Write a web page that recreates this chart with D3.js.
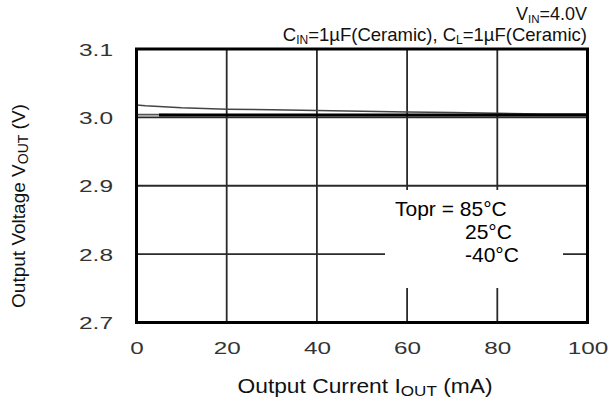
<!DOCTYPE html>
<html>
<head>
<meta charset="utf-8">
<script src="https://cdn.jsdelivr.net/npm/d3@7"></script>
<style>
  html, body { margin: 0; padding: 0; background: #fff; }
  svg { display: block; font-family: "Liberation Sans", Arial, sans-serif; }
</style>
</head>
<body>
<svg id="chart" width="611" height="403"></svg>
<script>
// Output voltage vs. output current at three operating temperatures
const xTicks = [0, 20, 40, 60, 80, 100];
const yTicks = [2.7, 2.8, 2.9, 3.0, 3.1];
const yTickLabels = ["2.7", "2.8", "2.9", "3.0", "3.1"];

const current85 = [0, 2, 5, 10, 20, 30, 40, 50, 60, 70, 80, 90, 100];
const vout85    = [3.018, 3.017, 3.016, 3.014, 3.012, 3.011, 3.010, 3.009, 3.008, 3.007, 3.006, 3.005, 3.005];

const current25 = [5, 20, 40, 60, 80, 100];
const vout25    = [3.0035, 3.0035, 3.0035, 3.0035, 3.0035, 3.0035];

const currentM40 = [0, 5, 20, 40, 60, 80, 100];
const voutM40    = [3.004, 3.004, 3.0035, 3.0035, 3.003, 3.003, 3.003];

const legendLabels = ["Topr = 85°C", "25°C", "-40°C"];

const svg = d3.select("#chart");
const plotL = 136.5, plotR = 587.5, plotT = 49, plotB = 322.5;

const x = d3.scaleLinear().domain([0, 100]).range([plotL, plotR]);
const y = d3.scaleLinear().domain([2.7, 3.1]).range([plotB, plotT]);

// grid
const grid = svg.append("g").attr("stroke", "#2a2a2a").attr("stroke-width", 1.8);
grid.selectAll("line.v").data(xTicks.slice(1, -1)).join("line")
  .attr("class", "v")
  .attr("x1", d => x(d)).attr("x2", d => x(d))
  .attr("y1", plotT).attr("y2", plotB);
grid.selectAll("line.h").data(yTicks.slice(1, -1)).join("line")
  .attr("class", "h")
  .attr("x1", plotL).attr("x2", plotR)
  .attr("y1", d => y(d)).attr("y2", d => y(d));

// curves
const line = (xs, ys) => d3.line().x((d, i) => x(xs[i])).y(d => y(d))(ys);
svg.append("path").attr("d", line(currentM40, voutM40))
  .attr("fill", "none").attr("stroke", "#555").attr("stroke-width", 1.6);
svg.append("path").attr("d", line(current85, vout85))
  .attr("fill", "none").attr("stroke", "#444").attr("stroke-width", 1.5);
svg.append("path").attr("d", line(current25, vout25))
  .attr("fill", "none").attr("stroke", "#000").attr("stroke-width", 3);

// legend backdrop covering grid
svg.append("rect").attr("x", 385).attr("y", 190).attr("width", 178).attr("height", 98)
  .attr("fill", "#fff");

// frame
svg.append("rect").attr("x", plotL).attr("y", plotT)
  .attr("width", plotR - plotL).attr("height", plotB - plotT)
  .attr("fill", "none").attr("stroke", "#000").attr("stroke-width", 3);

// axes (labels only)
const xAxis = d3.axisBottom(x).tickValues(xTicks).tickSize(0).tickPadding(0)
  .tickFormat(d3.format("d"));
const gx = svg.append("g").attr("transform", `translate(0, 354)`).call(xAxis);
gx.select(".domain").remove();
gx.selectAll("text").attr("dy", 0).attr("y", 0)
  .attr("font-size", 17).attr("fill", "#333")
  .attr("font-family", "'Liberation Sans', Arial, sans-serif")
  .attr("lengthAdjust", "spacingAndGlyphs")
  .attr("textLength", d => String(d).length * 13.5)
  .attr("text-anchor", "middle");

const yAxis = d3.axisLeft(y).tickValues(yTicks).tickSize(0).tickPadding(0)
  .tickFormat((d, i) => yTickLabels[i]);
const gy = svg.append("g").attr("transform", `translate(113, 0)`).call(yAxis);
gy.select(".domain").remove();
gy.selectAll("text").attr("x", 0).attr("dy", "0.36em")
  .attr("font-size", 17).attr("fill", "#333")
  .attr("font-family", "'Liberation Sans', Arial, sans-serif")
  .attr("lengthAdjust", "spacingAndGlyphs")
  .attr("textLength", 34)
  .attr("text-anchor", "end");

// axis titles
const xt = svg.append("text").attr("x", 365).attr("y", 393)
  .attr("text-anchor", "middle").attr("font-size", 20).attr("fill", "#111")
  .attr("textLength", 255).attr("lengthAdjust", "spacingAndGlyphs");
xt.append("tspan").text("Output Current I");
xt.append("tspan").attr("font-size", 15).attr("dy", 3).text("OUT");
xt.append("tspan").attr("dy", -3).text(" (mA)");

const yt = svg.append("text").attr("transform", "translate(25, 206) rotate(-90)")
  .attr("text-anchor", "middle").attr("font-size", 19).attr("fill", "#111");
yt.append("tspan").text("Output Voltage V");
yt.append("tspan").attr("font-size", 14).attr("dy", 3).text("OUT");
yt.append("tspan").attr("dy", -3).text(" (V)");

// conditions header
const h1 = svg.append("text").attr("x", 587).attr("y", 20)
  .attr("text-anchor", "end").attr("font-size", 18).attr("fill", "#111");
h1.append("tspan").text("V");
h1.append("tspan").attr("font-size", 11.5).attr("dy", 2.5).text("IN");
h1.append("tspan").attr("dy", -2.5).text("=4.0V");

const h2 = svg.append("text").attr("x", 587).attr("y", 41)
  .attr("text-anchor", "end").attr("font-size", 18.5).attr("fill", "#111");
h2.append("tspan").text("C");
h2.append("tspan").attr("font-size", 12).attr("dy", 3).text("IN");
h2.append("tspan").attr("dy", -3).text("=1µF(Ceramic), C");
h2.append("tspan").attr("font-size", 12).attr("dy", 3).text("L");
h2.append("tspan").attr("dy", -3).text("=1µF(Ceramic)");

// temperature legend
const lg = svg.append("g").attr("font-size", 21).attr("fill", "#000");
lg.append("text").attr("x", 395).attr("y", 216).text(legendLabels[0]);
lg.append("text").attr("x", 465).attr("y", 239).text(legendLabels[1]);
lg.append("text").attr("x", 465).attr("y", 262).text(legendLabels[2]);
</script>
</body>
</html>
